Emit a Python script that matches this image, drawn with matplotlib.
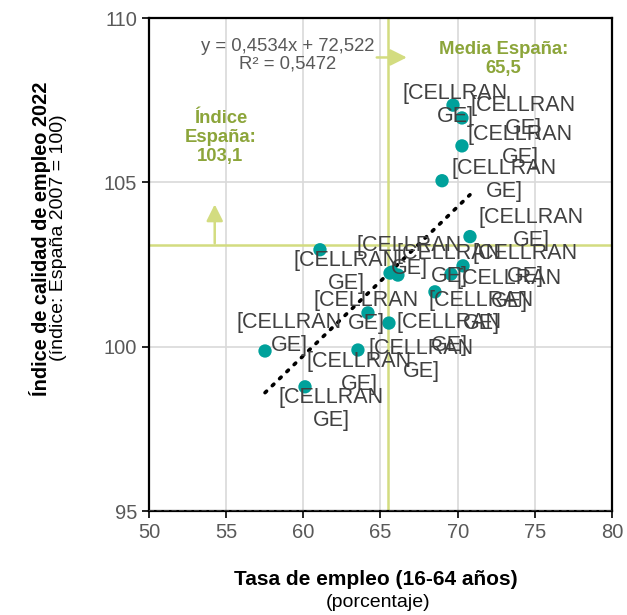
import matplotlib
matplotlib.use("Agg")
import matplotlib.pyplot as plt
import numpy as np

plt.rcParams["font.family"] = ["Liberation Sans", "DejaVu Sans"]

# tasa de empleo (16-64) y indice de calidad de empleo por comunidad
tasa_empleo = [69.70, 70.28, 70.28, 68.99, 70.80, 61.08, 65.62, 65.75, 66.13,
               70.35, 69.57, 68.53, 64.19, 65.55, 57.52, 63.54, 60.11]
indice_calidad = [107.35, 106.96, 106.11, 105.05, 103.35, 102.95, 102.24, 102.27, 102.18,
                  102.46, 102.21, 101.67, 101.03, 100.72, 99.87, 99.90, 98.78]
etiquetas = ["[CELLRAN\nGE]"] * len(tasa_empleo)

media_espana_empleo = 65.5
indice_espana = 103.1
pendiente = 0.4534
ordenada = 72.522
r2 = 0.5472

# label offsets in pixels (x right, y up)
offsets = [(2, 0), (61, 1), (58, 0), (62, 1), (61, 8), (26, -22), (19, 16), (57, 7),
           (23, -85), (62, 1), (58, -16), (46, -20), (-2, 1), (60, -11), (24, 17),
           (1, -23), (26, -22)]

TEAL = "#00a19b"
OLIVE = "#8ca53a"
LIGHT = "#d3dc80"
GRAY = "#595959"
DARK = "#404040"

fig = plt.figure(figsize=(6.27, 6.15), dpi=100)
ax = fig.add_axes([0.2376, 0.169, 0.7384, 0.8017])

ax.set_xlim(50, 80)
ax.set_ylim(95, 110)
ax.set_xticks(np.arange(50, 81, 5))
ax.set_yticks([95, 100, 105, 110])
ax.grid(True, color="#d9d9d9", linewidth=1.2, zorder=0)
ax.tick_params(labelsize=14.5, labelcolor=GRAY, length=5, width=1.2, direction="out")
for side in ax.spines.values():
    side.set_linewidth(1.6)
    side.set_color("black")

ax.axhline(95, color="#404040", linestyle=(0, (3, 1.5)), linewidth=1.2, zorder=3)

# Spain reference lines
ax.axvline(media_espana_empleo, color=LIGHT, linewidth=1.8, zorder=2)
ax.axhline(indice_espana, color=LIGHT, linewidth=1.8, zorder=2)

# trend line
x_fit = np.array([min(tasa_empleo), max(tasa_empleo)])
ax.plot(x_fit, pendiente * x_fit + ordenada, color="black", linewidth=2.6,
        linestyle=(0, (0.6, 2.2)), dash_capstyle="round", zorder=4)

ax.scatter(tasa_empleo, indice_calidad, s=92, color=TEAL, edgecolors="none", zorder=5)

for x, y, txt, (dx, dy) in zip(tasa_empleo, indice_calidad, etiquetas, offsets):
    ax.annotate(txt, (x, y), xytext=(dx, dy), textcoords="offset pixels",
                ha="center", va="center", fontsize=15.5, color=DARK,
                linespacing=1.12, zorder=6)

ax.text(0.30, 0.925, f"y = 0,4534x + 72,522\nR² = {r2:.4f}".replace(".", ","),
        transform=ax.transAxes, ha="center", va="center", fontsize=13.3, color=GRAY,
        linespacing=1.05)

ax.text(0.765, 0.917, "Media España:\n65,5", transform=ax.transAxes, ha="center",
        va="center", fontsize=13.3, fontweight="bold", color=OLIVE, linespacing=1.15)
ax.text(0.154, 0.758, "Índice\nEspaña:\n103,1", transform=ax.transAxes, ha="center",
        va="center", fontsize=13.3, fontweight="bold", color=OLIVE, linespacing=1.15)

ax.annotate("", xy=(0.557, 0.92), xytext=(0.492, 0.92), xycoords="axes fraction",
            arrowprops=dict(arrowstyle="-|>,head_length=1.0,head_width=0.5",
                            color=LIGHT, linewidth=1.8, shrinkA=0, shrinkB=0))
ax.annotate("", xy=(0.142, 0.622), xytext=(0.142, 0.543), xycoords="axes fraction",
            arrowprops=dict(arrowstyle="-|>,head_length=1.0,head_width=0.5",
                            color=LIGHT, linewidth=1.8, shrinkA=0, shrinkB=0))

fig.text(0.0638, 0.611, "Índice de calidad de empleo 2022", rotation=90, ha="center",
         va="center", fontsize=14.3, fontweight="bold", color="black")
fig.text(0.0935, 0.613, "(índice: España 2007 = 100)", rotation=90, ha="center",
         va="center", fontsize=14, color="black")
fig.text(0.6, 0.057, "Tasa de empleo (16-64 años)", ha="center", va="center",
         fontsize=15, fontweight="bold", color="black")
fig.text(0.603, 0.020, "(porcentaje)", ha="center", va="center", fontsize=14,
         color="black")

fig.savefig("out.png", dpi=100)
